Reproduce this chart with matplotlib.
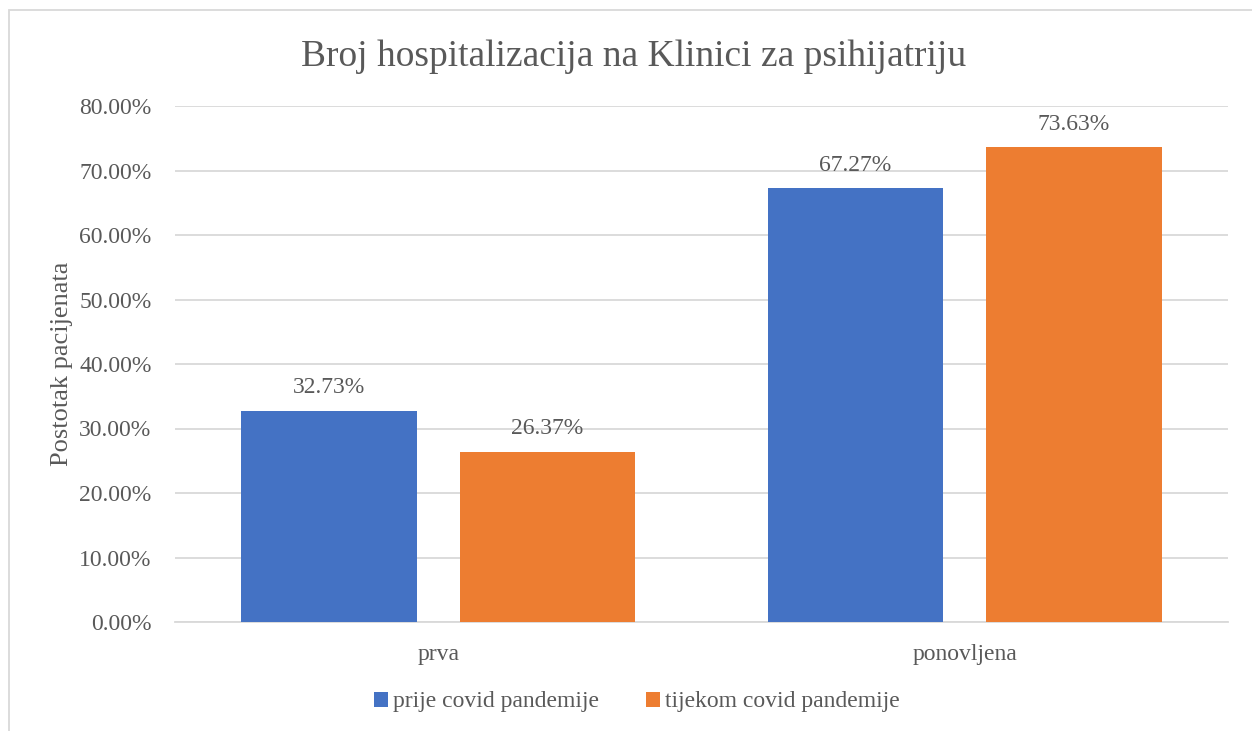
import matplotlib
matplotlib.use('Agg')
import matplotlib.pyplot as plt
import numpy as np
from matplotlib.patches import Rectangle

categories = ['prva', 'ponovljena']
prije = [0.3273, 0.6727]
tijekom = [0.2637, 0.7363]
series_names = ['prije covid pandemije', 'tijekom covid pandemije']
yticks = [0.0, 0.1, 0.2, 0.3, 0.4, 0.5, 0.6, 0.7, 0.8]

plt.rcParams['font.family'] = ['Liberation Serif', 'DejaVu Serif']
txt = '#595959'
blue = '#4472C4'
orange = '#ED7D31'

fig = plt.figure(figsize=(12.52, 7.31), dpi=100)
W, H = 1252, 731
fig.patches.append(Rectangle((9 / W, -0.1), 1.2, 1 - 10 / H + 0.1, transform=fig.transFigure,
                             fill=False, edgecolor='#D9D9D9', linewidth=1.3))

ax = fig.add_axes([175 / W, 1 - 622 / H, (1228 - 175) / W, (622 - 106) / H])
x = np.arange(len(categories))
bw = 0.333
gap = 0.082
b1 = ax.bar(x - (bw + gap) / 2, prije, bw, color=blue, label=series_names[0], zorder=3)
b2 = ax.bar(x + (bw + gap) / 2, tijekom, bw, color=orange, label=series_names[1], zorder=3)

for bars in (b1, b2):
    for r in bars:
        v = r.get_height()
        ax.annotate('%.2f%%' % (v * 100), (r.get_x() + r.get_width() / 2, v),
                    xytext=(0, 9), textcoords='offset points', ha='center', va='bottom',
                    fontsize=17, color=txt, zorder=4)

ax.set_xlim(-0.5, 1.5)
ax.set_ylim(0, 0.8)
ax.set_yticks(yticks)
ax.set_yticklabels(['%.2f%%' % (t * 100) for t in yticks])
ax.set_xticks(x)
ax.set_xticklabels(categories)
ax.tick_params(axis='both', length=0, labelsize=17, labelcolor=txt)
ax.tick_params(axis='y', pad=17)
ax.tick_params(axis='x', pad=16)
ax.yaxis.grid(True, color='#D9D9D9', linewidth=1.3, zorder=0)
for s in ['top', 'right', 'left']:
    ax.spines[s].set_visible(False)
ax.spines['bottom'].set_color('#D9D9D9')
ax.spines['bottom'].set_linewidth(1.3)

ax.set_ylabel('Postotak pacijenata', fontsize=19, color=txt, labelpad=4)
fig.text((302 + 965) / 2 / W, 1 - 57 / H, 'Broj hospitalizacija na Klinici za psihijatriju',
         ha='center', va='center', fontsize=27, color=txt)

fig.legend(loc='center', bbox_to_anchor=(637 / W, 1 - 702 / H), ncol=2, frameon=False,
           fontsize=17, labelcolor=txt, handlelength=0.6, handleheight=0.6,
           handletextpad=0.2, columnspacing=2.0)

fig.savefig('out.png', dpi=100)
